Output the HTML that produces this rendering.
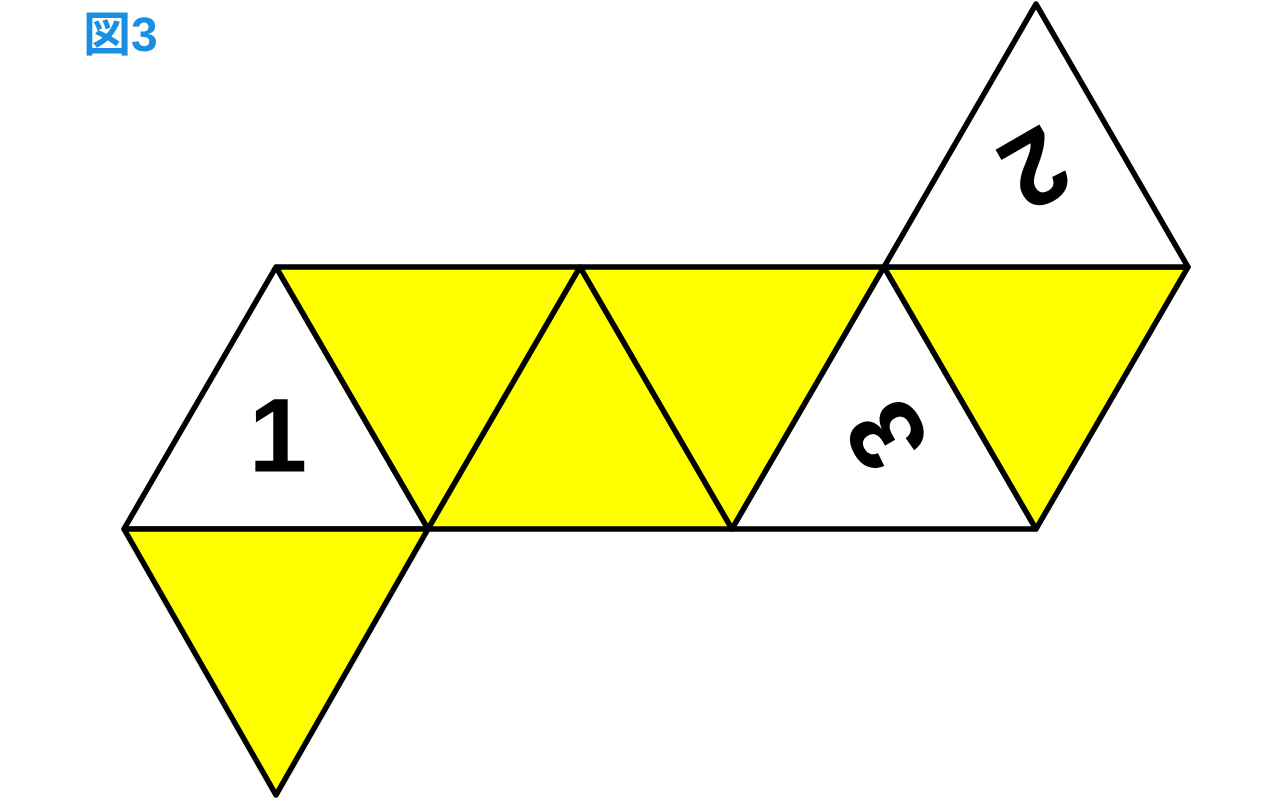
<!DOCTYPE html>
<html><head><style>body{margin:0;background:#fff}svg{display:block}</style></head>
<body>
<svg width="1280" height="802" viewBox="0 0 1280 802">
<g stroke="#000" stroke-width="5.5" stroke-linejoin="round">
<polygon points="124,529 276,267 428,529" fill="#fff"/>
<polygon points="276,267 580,267 428,529" fill="#ffff00"/>
<polygon points="428,529 580,267 732,529" fill="#ffff00"/>
<polygon points="580,267 884,267 732,529" fill="#ffff00"/>
<polygon points="732,529 884,267 1036,529" fill="#fff"/>
<polygon points="884,267 1188,267 1036,529" fill="#ffff00"/>
<polygon points="884,267 1036,4 1188,267" fill="#fff"/>
<polygon points="124,529 428,529 276,795" fill="#ffff00"/>
</g>
<g font-family="Liberation Sans, sans-serif" font-weight="bold" font-size="105" text-anchor="middle" dominant-baseline="central">
<text x="278" y="436">1</text>
<text x="0" y="0" transform="translate(887,435) rotate(-120)">3</text>
<text x="0" y="0" transform="translate(1035,168) rotate(150)">2</text>
</g>
<text x="83" y="51" font-family="Liberation Sans, 'Noto Sans CJK JP', sans-serif" font-weight="bold" font-size="48" fill="#1a8fe0">図3</text>
</svg>
</body></html>
